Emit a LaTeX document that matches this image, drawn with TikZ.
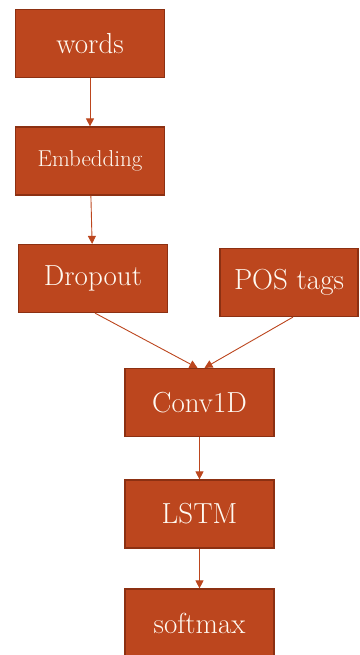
\documentclass[tikz,border=0pt]{standalone}
\usepackage{xcolor}
\usepackage{tikz}
\usetikzlibrary{arrows.meta, positioning}
\definecolor{myrust}{RGB}{188,70,30}
\definecolor{myrustdark}{RGB}{140,48,18}
\definecolor{mycream}{RGB}{255,250,242}
\tikzset{
  layer/.style={rectangle, draw=myrustdark, fill=myrust, text=mycream,
    minimum width=149pt, minimum height=68pt, align=center,
    font=\fontsize{29}{31}\selectfont, line width=1.2pt},
  arrow/.style={-{Triangle[width=8pt,length=8pt]}, line width=0.9pt, color=myrust}
}
\begin{document}
\begin{tikzpicture}[x=1pt, y=-1pt]
  \useasboundingbox (0,0) rectangle (359,655);
  \node[layer] (words) at (90,43.5) {words};
  \node[layer, font=\fontsize{23}{25}\selectfont] (emb) at (90,161) {Embedding};
  \node[layer] (drop) at (93,278.5) {Dropout};
  \node[layer, minimum width=138pt] (pos) at (289,282.5) {POS tags};
  \node[layer] (conv) at (199.5,402.5) {Conv1D};
  \node[layer] (lstm) at (199.5,514) {LSTM};
  \node[layer] (soft) at (199.5,623) {softmax};
  \draw[arrow] (words) -- (emb);
  \draw[arrow] (emb) -- (drop);
  \draw[arrow] ([xshift=2pt]drop.south) -- ([xshift=-2pt]conv.north);
  \draw[arrow] ([xshift=4pt]pos.south) -- ([xshift=5pt]conv.north);
  \draw[arrow] (conv) -- (lstm);
  \draw[arrow] (lstm) -- (soft);
\end{tikzpicture}
\end{document}
